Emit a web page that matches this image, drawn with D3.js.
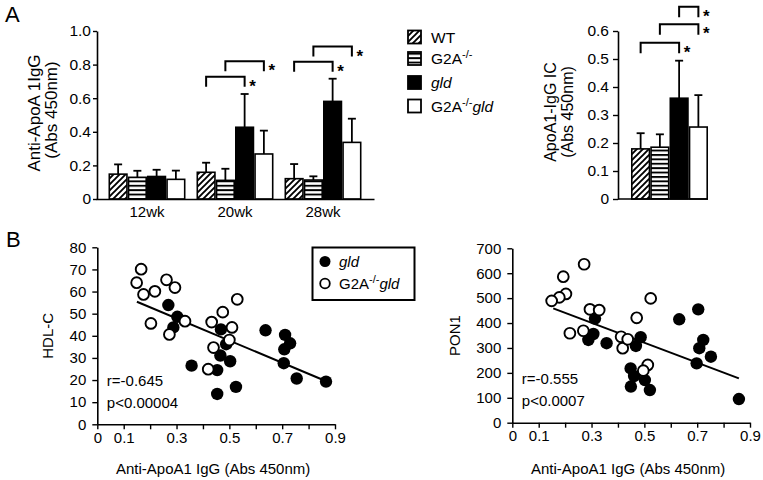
<!DOCTYPE html>
<html><head><meta charset="utf-8">
<script src="https://cdnjs.cloudflare.com/ajax/libs/d3/7.8.5/d3.min.js"></script>
<style>
body{margin:0;background:#fff}
svg{display:block;font-family:"Liberation Sans",Arial,Helvetica,sans-serif}
</style>
</head><body>
<svg id="c" width="763" height="480"></svg>
<script>
// ---------- DATA ----------
const ageGroups = ["12wk", "20wk", "28wk"];
const genotypes = ["WT", "G2A", "gld", "G2Agld"];
// Panel A left: anti-ApoA1 IgG (mean, SD) per age group
const abMeanWT     = [0.148, 0.159, 0.121];
const abMeanG2A    = [0.129, 0.111, 0.113];
const abMeanGld    = [0.134, 0.427, 0.581];
const abMeanDouble = [0.117, 0.268, 0.337];
const abSdWT       = [0.058, 0.057, 0.087];
const abSdG2A      = [0.039, 0.069, 0.022];
const abSdGld      = [0.040, 0.198, 0.135];
const abSdDouble   = [0.052, 0.139, 0.141];
// Panel A right: ApoA1-IgG IC
const icMean = [0.179, 0.185, 0.360, 0.257];
const icSd   = [0.056, 0.046, 0.134, 0.114];
// significance brackets: group, fromGenotypeIdx, toGenotypeIdx, level
const sigLeftGroup = ["20wk", "20wk", "28wk", "28wk"];
const sigLeftFrom  = [0, 1, 0, 1];
const sigLeftTo    = [2, 3, 2, 3];
const sigLeftLevel = [0.728, 0.820, 0.817, 0.907];
const sigRightFrom  = [0, 1, 2];
const sigRightTo    = [2, 3, 3];
const sigRightLevel = [0.558, 0.624, 0.687];
// Panel A tick labels
const abTicks = [0, 0.2, 0.4, 0.6, 0.8, 1.0];
const icTicks = [0, 0.1, 0.2, 0.3, 0.4, 0.5, 0.6];
// Panel B: HDL-C vs anti-ApoA1 IgG
const hdlGldX = [0.269,0.303,0.288,0.357,0.454,0.468,0.488,0.466,0.503,0.454,0.525,0.637,0.711,0.730,0.708,0.706,0.755,0.866];
const hdlGldY = [53.9,48.6,43.8,26.5,13.7,42.9,36.2,31.1,28.5,24.5,16.9,42.5,40.4,36.6,33.9,27.6,20.7,19.3];
const hdlDblX = [0.166,0.149,0.175,0.218,0.262,0.294,0.203,0.273,0.332,0.433,0.475,0.510,0.500,0.440,0.420,0.530];
const hdlDblY = [70.1,64.0,58.7,60.1,65.3,61.8,45.6,40.6,46.6,46.2,50.7,43.8,38.1,34.7,24.9,56.5];
const hdlFitX = [0.15, 0.86];
const hdlFitY = [55.4, 19.8];
// Panel B: PON1 vs anti-ApoA1 IgG
const ponGldX = [0.313,0.307,0.288,0.357,0.486,0.468,0.448,0.461,0.502,0.449,0.521,0.632,0.704,0.723,0.708,0.752,0.698,0.858];
const ponGldY = [418,356,332,319,343,308,218,187,171,145,131,415,455,332,299,265,238,95];
const ponDblX = [0.272,0.193,0.203,0.178,0.149,0.294,0.329,0.218,0.269,0.412,0.418,0.524,0.471,0.437,0.513,0.496];
const ponDblY = [636,586,517,503,489,455,452,359,369,345,299,499,421,335,232,209];
const ponFitX = [0.155, 0.858];
const ponFitY = [459, 178];
const xTicksB = [0,0.1,0.2,0.3,0.4,0.5,0.6,0.7,0.8,0.9];
const xTickLabelsB = [0,0.1,0.3,0.5,0.7,0.9];
const hdlTicks = [0,10,20,30,40,50,60,70,80];
const ponTicks = [0,100,200,300,400,500,600,700];

// ---------- DRAWING ----------
const svg = d3.select("#c");
const defs = svg.append("defs");
const pDiag = defs.append("pattern").attr("id","diag").attr("patternUnits","userSpaceOnUse")
  .attr("width",6).attr("height",6);
pDiag.append("rect").attr("width",6).attr("height",6).attr("fill","#fff");
pDiag.append("path").attr("d","M-1,1 L1,-1 M0,6 L6,0 M5,7 L7,5").attr("stroke","#000").attr("stroke-width",1.9);
const pHor = defs.append("pattern").attr("id","hor").attr("patternUnits","userSpaceOnUse")
  .attr("width",6).attr("height",4.4);
pHor.append("rect").attr("width",6).attr("height",4.4).attr("fill","#fff");
pHor.append("rect").attr("y",0).attr("width",6).attr("height",1.9).attr("fill","#000");
const fills = {WT:"url(#diag)", G2A:"url(#hor)", gld:"#000", G2Agld:"#fff"};

const fmt1 = d => d === 0 ? "0" : d3.format(".1f")(d);
function styleAxis(g, fs){
  g.attr("font-family", null).attr("font-size", null);
  g.selectAll("path.domain").attr("stroke","#000").attr("stroke-width",1.6);
  g.selectAll(".tick line").attr("stroke","#000").attr("stroke-width",1.4);
  g.selectAll("text").attr("fill","#000").style("font-size",fs+"px");
}

// ===== Panel A left =====
const yA = d3.scaleLinear().domain([0,1]).range([199,31]);
const xA0 = d3.scaleBand().domain(ageGroups).range([96,374]).paddingInner(0.125).paddingOuter(0.142);
const xA1 = d3.scaleBand().domain(genotypes).range([0, xA0.bandwidth()]);
const abMeans = {WT:abMeanWT, G2A:abMeanG2A, gld:abMeanGld, G2Agld:abMeanDouble};
const abSds = {WT:abSdWT, G2A:abSdG2A, gld:abSdGld, G2Agld:abSdDouble};
const barsA = [];
ageGroups.forEach((g,i)=> genotypes.forEach(k=> barsA.push({g, k, m:abMeans[k][i], s:abSds[k][i]})));

const gAL = svg.append("g");
gAL.selectAll("line.err").data(barsA).join("line")
  .attr("x1",d=>xA0(d.g)+xA1(d.k)+xA1.bandwidth()/2).attr("x2",d=>xA0(d.g)+xA1(d.k)+xA1.bandwidth()/2)
  .attr("y1",d=>yA(d.m)).attr("y2",d=>yA(d.m+d.s)).attr("stroke","#000").attr("stroke-width",1.8);
gAL.selectAll("line.cap").data(barsA).join("line")
  .attr("x1",d=>xA0(d.g)+xA1(d.k)+xA1.bandwidth()/2-4).attr("x2",d=>xA0(d.g)+xA1(d.k)+xA1.bandwidth()/2+4)
  .attr("y1",d=>yA(d.m+d.s)).attr("y2",d=>yA(d.m+d.s)).attr("stroke","#000").attr("stroke-width",1.8);
gAL.selectAll("rect.bar").data(barsA).join("rect")
  .attr("x",d=>xA0(d.g)+xA1(d.k)+0.8).attr("width",xA1.bandwidth()-1.6)
  .attr("y",d=>yA(d.m)).attr("height",d=>yA(0)-yA(d.m))
  .attr("fill",d=>fills[d.k]).attr("stroke","#000").attr("stroke-width",1.6);

const axAL = svg.append("g").attr("transform","translate(97,0)")
  .call(d3.axisLeft(yA).tickValues(abTicks).tickFormat(fmt1).tickSize(4).tickSizeOuter(0).tickPadding(2));
styleAxis(axAL, 15.5);
const axALx = svg.append("g").attr("transform","translate(0,199)")
  .call(d3.axisBottom(xA0).tickSize(0).tickSizeOuter(0).tickPadding(7));
styleAxis(axALx, 15);

function bracket(g, x1, x2, y, leg){
  g.append("path").attr("d",`M${x1},${y+leg} L${x1},${y} L${x2},${y} L${x2},${y+leg}`)
    .attr("fill","none").attr("stroke","#000").attr("stroke-width",2);
  g.append("text").attr("x",x2+4.5).attr("y",y+15).text("*")
    .style("font-size","17px").style("font-weight","bold");
}
const cx = (g,k)=> xA0(g)+xA1(k)+xA1.bandwidth()/2;
sigLeftGroup.forEach((g,i)=>{
  bracket(svg, cx(g,genotypes[sigLeftFrom[i]]), cx(g,genotypes[sigLeftTo[i]]), yA(sigLeftLevel[i]), 10);
});
svg.append("text").attr("transform","translate(40,113) rotate(-90)").attr("text-anchor","middle")
  .style("font-size","17px").text("Anti-ApoA 1IgG");
svg.append("text").attr("transform","translate(57,110) rotate(-90)").attr("text-anchor","middle")
  .style("font-size","17px").text("(Abs 450nm)");

// ===== Panel A right =====
const yR = d3.scaleLinear().domain([0,0.6]).range([199,31]);
const xR = d3.scaleBand().domain(genotypes).range([631,708]);
const barsR = genotypes.map((k,i)=>({k, m:icMean[i], s:icSd[i]}));
const gAR = svg.append("g");
gAR.selectAll("line.err").data(barsR).join("line")
  .attr("x1",d=>xR(d.k)+xR.bandwidth()/2).attr("x2",d=>xR(d.k)+xR.bandwidth()/2)
  .attr("y1",d=>yR(d.m)).attr("y2",d=>yR(d.m+d.s)).attr("stroke","#000").attr("stroke-width",1.8);
gAR.selectAll("line.cap").data(barsR).join("line")
  .attr("x1",d=>xR(d.k)+xR.bandwidth()/2-4).attr("x2",d=>xR(d.k)+xR.bandwidth()/2+4)
  .attr("y1",d=>yR(d.m+d.s)).attr("y2",d=>yR(d.m+d.s)).attr("stroke","#000").attr("stroke-width",1.8);
gAR.selectAll("rect").data(barsR).join("rect")
  .attr("x",d=>xR(d.k)+0.8).attr("width",xR.bandwidth()-1.6)
  .attr("y",d=>yR(d.m)).attr("height",d=>yR(0)-yR(d.m))
  .attr("fill",d=>fills[d.k]).attr("stroke","#000").attr("stroke-width",1.6);
const axAR = svg.append("g").attr("transform","translate(618,0)")
  .call(d3.axisLeft(yR).tickValues(icTicks).tickFormat(fmt1).tickSize(5).tickSizeOuter(0).tickPadding(4));
styleAxis(axAR, 15.5);
svg.append("line").attr("x1",618).attr("x2",708).attr("y1",199).attr("y2",199).attr("stroke","#000").attr("stroke-width",1.6);
sigRightFrom.forEach((a,i)=>{
  bracket(svg, xR(genotypes[a])+xR.bandwidth()/2, xR(genotypes[sigRightTo[i]])+xR.bandwidth()/2, yR(sigRightLevel[i]), 10.5);
});
svg.append("text").attr("transform","translate(556,112) rotate(-90)").attr("text-anchor","middle")
  .style("font-size","16px").text("ApoA1-IgG IC");
svg.append("text").attr("transform","translate(573,112) rotate(-90)").attr("text-anchor","middle")
  .style("font-size","16px").text("(Abs 450nm)");

// ===== Legend A =====
const legY = [37, 58.5, 82.5, 106];
const legLabels = [["WT"],["G2A","-/-"],["","","gld"],["G2A","-/-","gld"]];
genotypes.forEach((k,i)=>{
  svg.append("rect").attr("x",408).attr("y",legY[i]-6.5).attr("width",13).attr("height",13)
    .attr("fill",fills[k]).attr("stroke","#000").attr("stroke-width",1.8);
  const t = svg.append("text").attr("x",431).attr("y",legY[i]+5.5).style("font-size","15.5px");
  const L = legLabels[i];
  if (L[0]) t.append("tspan").text(L[0]);
  if (L[1]) t.append("tspan").attr("dy",-6).style("font-size","11px").text(L[1]);
  if (L[2]) t.append("tspan").attr("dy",L[1]?6:0).style("font-style","italic").text(L[2]);
});

// ===== Panel labels =====
svg.append("text").attr("x",5).attr("y",22).style("font-size","22px").text("A");
svg.append("text").attr("x",6).attr("y",247).style("font-size","22px").text("B");

// ===== Panel B scatter =====
function scatter(cfg){
  const x = d3.scaleLinear().domain([0,0.9]).range([cfg.x0, cfg.x1]);
  const y = d3.scaleLinear().domain([0,cfg.ymax]).range([cfg.y0, cfg.y1]);
  const g = svg.append("g");
  const ax = g.append("g").attr("transform",`translate(0,${cfg.y0})`)
    .call(d3.axisBottom(x).tickValues(xTicksB).tickSize(5).tickSizeOuter(0).tickPadding(3)
      .tickFormat(d=> xTickLabelsB.some(v=>Math.abs(v-d)<1e-9) ? (d===0?"0":d3.format(".1f")(d)) : ""));
  styleAxis(ax, 15);
  const ay = g.append("g").attr("transform",`translate(${cfg.x0},0)`)
    .call(d3.axisLeft(y).tickValues(cfg.yTicks).tickSize(5).tickSizeOuter(0).tickPadding(6).tickFormat(d3.format("d")));
  styleAxis(ay, 15);
  const line = d3.line().x((d,i)=>x(cfg.fx[i])).y((d,i)=>y(cfg.fy[i]));
  g.append("path").datum(cfg.fx).attr("d",line).attr("fill","none").attr("stroke","#000").attr("stroke-width",2);
  g.selectAll("circle.f").data(cfg.gx).join("circle")
    .attr("cx",d=>x(d)).attr("cy",(d,i)=>y(cfg.gy[i])).attr("r",6.2).attr("fill","#000");
  g.selectAll("circle.o").data(cfg.dx).join("circle").attr("class","o")
    .attr("cx",d=>x(d)).attr("cy",(d,i)=>y(cfg.dy[i])).attr("r",5.4)
    .attr("fill","#fff").attr("stroke","#000").attr("stroke-width",1.9);
  g.append("text").attr("x",cfg.x0+9.5).attr("y",cfg.y0-38.5).style("font-size","15px").text(cfg.r);
  g.append("text").attr("x",cfg.x0+9.5).attr("y",cfg.y0-16.5).style("font-size","15px").text(cfg.p);
  g.append("text").attr("transform",`translate(${cfg.x0-cfg.ylabOff},${(cfg.y0+cfg.y1)/2}) rotate(-90)`)
    .attr("text-anchor","middle").style("font-size","15px").text(cfg.ylab);
  g.append("text").attr("x",(cfg.x0+cfg.x1)/2-3).attr("y",474).attr("text-anchor","middle")
    .style("font-size","15px").text("Anti-ApoA1 IgG (Abs 450nm)");
}
scatter({x0:97.3, x1:335, y0:424.3, y1:247.3, ymax:80, yTicks:hdlTicks,
  gx:hdlGldX, gy:hdlGldY, dx:hdlDblX, dy:hdlDblY, fx:hdlFitX, fy:hdlFitY,
  r:"r=-0.645", p:"p<0.00004", ylab:"HDL-C", ylabOff:44});
scatter({x0:512.3, x1:750, y0:422.7, y1:248.3, ymax:700, yTicks:ponTicks,
  gx:ponGldX, gy:ponGldY, dx:ponDblX, dy:ponDblY, fx:ponFitX, fy:ponFitY,
  r:"r=-0.555", p:"p<0.0007", ylab:"PON1", ylabOff:52});

// ===== Legend B =====
svg.append("rect").attr("x",312.5).attr("y",247.5).attr("width",102).attr("height",52.5)
  .attr("fill","#fff").attr("stroke","#000").attr("stroke-width",2);
svg.append("circle").attr("cx",325).attr("cy",261.5).attr("r",5.5).attr("fill","#000");
svg.append("circle").attr("cx",325).attr("cy",283.5).attr("r",4.8).attr("fill","#fff").attr("stroke","#000").attr("stroke-width",1.8);
svg.append("text").attr("x",339).attr("y",266.5).style("font-size","15px").style("font-style","italic").text("gld");
const tb = svg.append("text").attr("x",339).attr("y",288.5).style("font-size","15px");
tb.append("tspan").text("G2A");
tb.append("tspan").attr("dy",-6).style("font-size","11px").text("-/-");
tb.append("tspan").attr("dy",6).style("font-style","italic").text("gld");
</script>
</body></html>
